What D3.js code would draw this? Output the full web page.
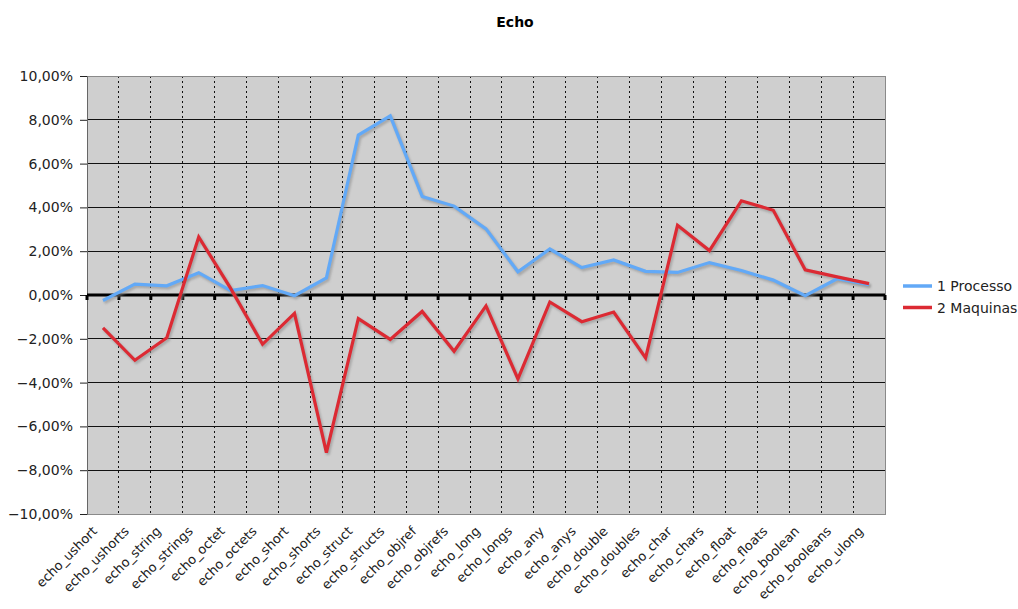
<!DOCTYPE html>
<html>
<head>
<meta charset="utf-8">
<script src="https://cdn.jsdelivr.net/npm/d3@7"></script>
<style>
  body { margin: 0; background: #fff; }
  svg { display: block; font-family: "DejaVu Sans", Verdana, sans-serif; }
</style>
</head>
<body>
<script>
const categories = ["echo_ushort", "echo_ushorts", "echo_string", "echo_strings", "echo_octet",
  "echo_octets", "echo_short", "echo_shorts", "echo_struct", "echo_structs", "echo_objref",
  "echo_objrefs", "echo_long", "echo_longs", "echo_any", "echo_anys", "echo_double",
  "echo_doubles", "echo_char", "echo_chars", "echo_float", "echo_floats", "echo_boolean",
  "echo_booleans", "echo_ulong"]

// values in %
const processo = [-0.25, 0.5, 0.42, 1.02, 0.2, 0.43, -0.03, 0.78, 7.3, 8.18, 4.5, 4.06, 3.02,
  1.06, 2.1, 1.25, 1.6, 1.08, 1.03, 1.48, 1.12, 0.68, -0.03, 0.74, 0.47]
const maquinas = [-1.5, -2.98, -1.95, 2.65, 0.3, -2.25, -0.84, -7.2, -1.08, -2.03, -0.75, -2.57,
  -0.5, -3.83, -0.32, -1.22, -0.78, -2.87, 3.18, 2.03, 4.3, 3.87, 1.15, 0.83, 0.52]

const yTicks = [-10, -8, -6, -4, -2, 0, 2, 4, 6, 8, 10]
const seriesNames = ["1 Processo", "2 Maquinas"]
const seriesColors = ["#62a9f7", "#dc2a33"]

const width = 1018, height = 609
const margin = {top: 76, left: 87, right: 133, bottom: 95}
const innerW = width - margin.left - margin.right
const innerH = height - margin.top - margin.bottom

const svg = d3.select("body").append("svg")
  .attr("width", width)
  .attr("height", height)

svg.append("text")
  .attr("x", 515)
  .attr("y", 27)
  .attr("text-anchor", "middle")
  .style("font-size", "14px")
  .style("font-weight", "bold")
  .text("Echo")

const g = svg.append("g")
  .attr("transform", `translate(${margin.left},${margin.top})`)

const x = d3.scaleBand()
  .domain(categories)
  .range([0, innerW])

const y = d3.scaleLinear()
  .domain([-10, 10])
  .range([innerH, 0])

// plot background
g.append("rect")
  .attr("width", innerW)
  .attr("height", innerH)
  .attr("fill", "#cfcfcf")

// horizontal grid
g.append("g")
  .selectAll("line")
  .data(yTicks.filter(d => d !== 0 && d !== -10))
  .enter().append("line")
    .attr("x1", 0)
    .attr("x2", innerW)
    .attr("y1", d => y(d))
    .attr("y2", d => y(d))
    .attr("stroke", "#111")
    .attr("stroke-width", 1)
    .attr("shape-rendering", "crispEdges")

// vertical dotted grid between categories
g.append("g")
  .selectAll("line")
  .data(categories.slice(1))
  .enter().append("line")
    .attr("x1", d => x(d))
    .attr("x2", d => x(d))
    .attr("y1", 0)
    .attr("y2", innerH)
    .attr("stroke", "#111")
    .attr("stroke-width", 1)
    .attr("stroke-dasharray", "2,3")
    .attr("shape-rendering", "crispEdges")

// border (top / right / bottom grey)
g.append("path")
  .attr("d", `M0,0H${innerW}V${innerH}H0`)
  .attr("fill", "none")
  .attr("stroke", "#8a8a8a")
  .attr("stroke-width", 1)
  .attr("shape-rendering", "crispEdges")

// y axis
const yAxis = g.append("g")
  .call(d3.axisLeft(y)
    .tickValues(yTicks)
    .tickSize(7)
    .tickPadding(7)
    .tickFormat(d => d3.format(".2f")(d).replace(".", ",") + "%"))
yAxis.select(".domain").attr("stroke", "#666")
yAxis.selectAll(".tick line").attr("stroke", "#222")
yAxis.selectAll("text")
  .attr("fill", "#222")
  .style("font-size", "14px")
  .style("font-family", "\"DejaVu Sans\", Verdana, sans-serif")

// zero line with ticks
const zeroY = y(0)
g.append("line")
  .attr("x1", 0)
  .attr("x2", innerW)
  .attr("y1", zeroY)
  .attr("y2", zeroY)
  .attr("stroke", "#000")
  .attr("stroke-width", 3)
g.append("g")
  .selectAll("line")
  .data(d3.range(categories.length + 1))
  .enter().append("line")
    .attr("x1", i => i * x.bandwidth())
    .attr("x2", i => i * x.bandwidth())
    .attr("y1", zeroY)
    .attr("y2", zeroY + 5)
    .attr("stroke", "#000")
    .attr("stroke-width", 3)

// x labels
g.append("g")
  .selectAll("text")
  .data(categories)
  .enter().append("text")
    .attr("transform", d => `translate(${x(d) + x.bandwidth() / 2 - 5},${innerH + 18}) rotate(-45)`)
    .attr("text-anchor", "end")
    .attr("fill", "#222")
    .style("font-size", "13px")
    .text(d => d)

// lines
const line = d3.line()
  .x((d, i) => x(categories[i]) + x.bandwidth() / 2)
  .y(d => y(d))

const allSeries = [processo, maquinas]

// shadows
g.append("g")
  .selectAll("path")
  .data(allSeries)
  .enter().append("path")
    .attr("d", line)
    .attr("transform", "translate(1.5,2)")
    .attr("fill", "none")
    .attr("stroke", "#8c8c8c")
    .attr("stroke-opacity", 0.6)
    .attr("stroke-width", 3.5)
    .style("filter", "blur(1px)")

g.append("g")
  .selectAll("path")
  .data(allSeries)
  .enter().append("path")
    .attr("d", line)
    .attr("fill", "none")
    .attr("stroke", (d, i) => seriesColors[i])
    .attr("stroke-width", 3.2)
    .attr("stroke-linejoin", "miter")

// legend
const legend = svg.append("g")
  .selectAll("g")
  .data(seriesNames)
  .enter().append("g")
    .attr("transform", (d, i) => `translate(903,${286 + i * 21.5})`)

legend.append("line")
  .attr("x1", 0)
  .attr("x2", 29)
  .attr("stroke", (d, i) => seriesColors[i])
  .attr("stroke-width", 3.5)

legend.append("text")
  .attr("x", 34)
  .attr("dy", "0.36em")
  .attr("fill", "#222")
  .style("font-size", "14px")
  .text(d => d)
</script>
</body>
</html>
